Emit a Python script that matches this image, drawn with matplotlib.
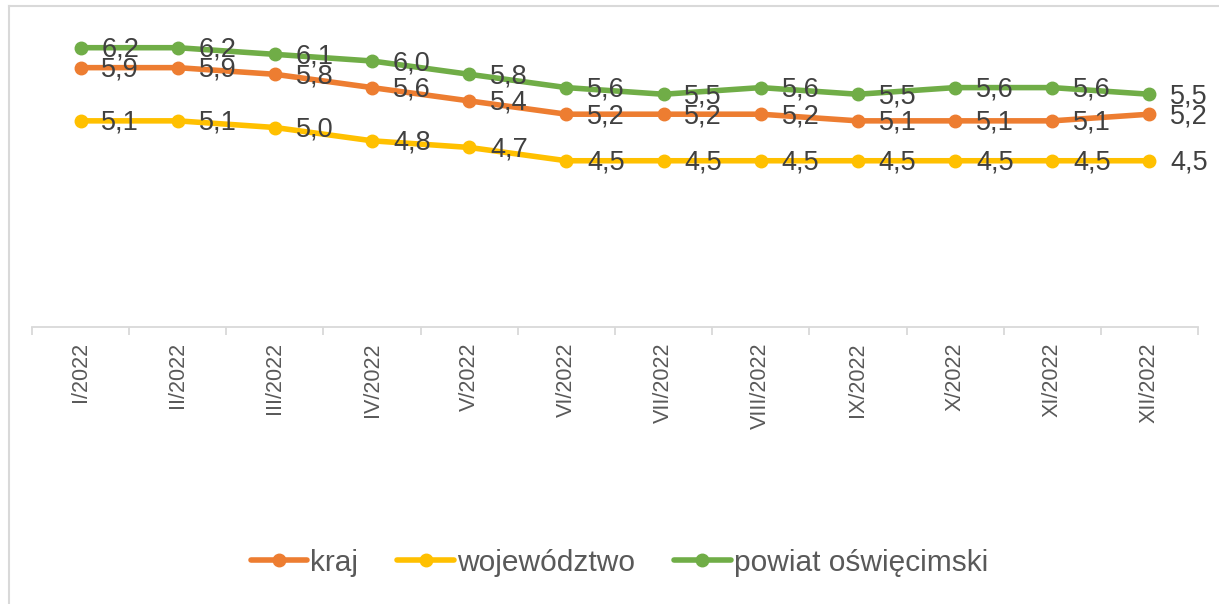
import numpy as np
import matplotlib
matplotlib.use("Agg")
import matplotlib.pyplot as plt
from matplotlib.lines import Line2D

plt.rcParams['font.family'] = ['Liberation Sans', 'DejaVu Sans']

# ---------- dane ----------
miesiace = ['I/2022', 'II/2022', 'III/2022', 'IV/2022', 'V/2022', 'VI/2022',
            'VII/2022', 'VIII/2022', 'IX/2022', 'X/2022', 'XI/2022', 'XII/2022']
kraj = [5.9, 5.9, 5.8, 5.6, 5.4, 5.2, 5.2, 5.2, 5.1, 5.1, 5.1, 5.2]
wojewodztwo = [5.1, 5.1, 5.0, 4.8, 4.7, 4.5, 4.5, 4.5, 4.5, 4.5, 4.5, 4.5]
powiat = [6.2, 6.2, 6.1, 6.0, 5.8, 5.6, 5.5, 5.6, 5.5, 5.6, 5.6, 5.5]

serie = [('kraj', kraj, '#ED7D31'),
         ('województwo', wojewodztwo, '#FFC000'),
         ('powiat oświęcimski', powiat, '#70AD47')]

W, H = 1219, 604
fig = plt.figure(figsize=(W / 100, H / 100), dpi=100)
ax = fig.add_axes([32 / W, 1 - 327 / H, 1166 / W, 299.25 / H])

x = np.arange(len(miesiace))
for nazwa, wart, kolor in serie:
    ax.plot(x, wart, color=kolor, lw=4.0, marker='o', ms=9,
            solid_capstyle='round', label=nazwa, zorder=3)

# etykiety danych (po prawej stronie punktu)
for nazwa, wart, kolor in serie:
    for xi, v in zip(x, wart):
        ax.annotate(f'{v:.1f}'.replace('.', ','), (xi, v), xytext=(15, -1.5),
                    textcoords='offset points', ha='left', va='center',
                    fontsize=19.5, color='#404040', zorder=5,
                    annotation_clip=False)

ax.set_xlim(-0.5, len(miesiace) - 0.5)
ax.set_ylim(2.0, 6.5)

# osie
for s in ['top', 'right', 'left']:
    ax.spines[s].set_visible(False)
ax.spines['bottom'].set_color('#D9D9D9')
ax.spines['bottom'].set_linewidth(1.3)
ax.set_yticks([])

ax.set_xticks(np.arange(-0.5, len(miesiace), 1.0))
ax.set_xticklabels([])
ax.tick_params(axis='x', which='major', length=6, width=1.3, color='#D9D9D9')
ax.set_xticks(x, minor=True)
ax.set_xticklabels(miesiace, minor=True, rotation=90, va='top', ha='center',
                   fontsize=15.5, color='#595959')
ax.tick_params(axis='x', which='minor', length=0, pad=11)

leg = fig.legend(loc='center', bbox_to_anchor=(0.508, 0.068), ncol=3,
                 frameon=False, fontsize=21.5, handlelength=1.9,
                 handletextpad=0.1, columnspacing=1.3, labelcolor='#595959')

# ramka wykresu (lewa i górna krawędź)
x0, y0 = 9 / W, 1 - 6 / H
fig.add_artist(Line2D([x0, x0], [0, y0], transform=fig.transFigure,
                      color='#D9D9D9', lw=1.5))
fig.add_artist(Line2D([x0, 1], [y0, y0], transform=fig.transFigure,
                      color='#D9D9D9', lw=1.5))

fig.savefig('out.png', dpi=100, facecolor='white')
